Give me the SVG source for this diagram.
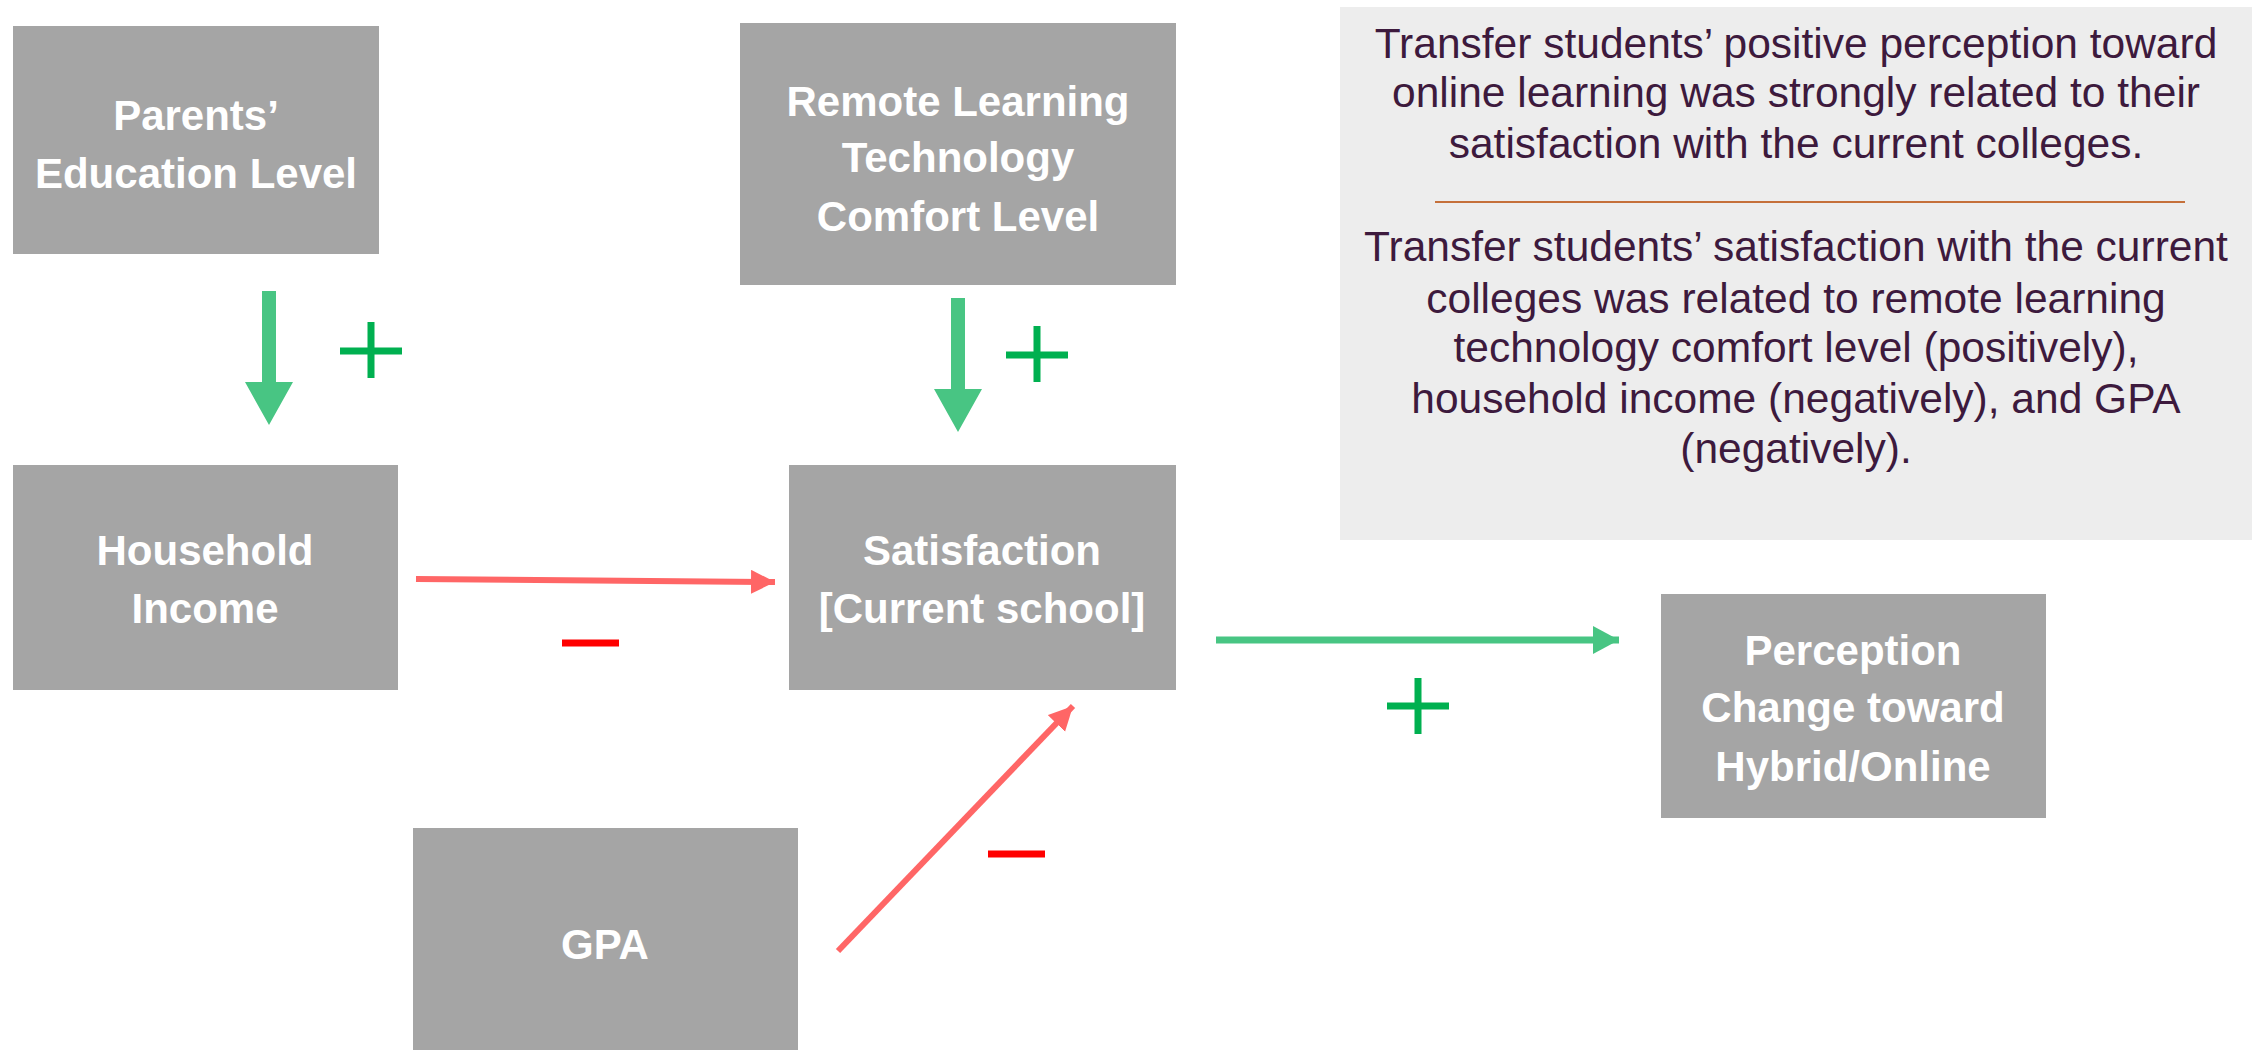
<svg xmlns="http://www.w3.org/2000/svg" width="2259" height="1050" viewBox="0 0 2259 1050">
<style>
.box{fill:#A5A5A5}
.nt{font-family:"Liberation Sans",Arial,sans-serif;font-weight:bold;font-size:42px;fill:#FFFFFF;text-anchor:middle}
.it{font-family:"Liberation Sans",Arial,sans-serif;font-size:42.5px;fill:#3D1A3D;text-anchor:middle}
.red{stroke:#FF6666;stroke-width:6;fill:none}
.grn{stroke:#48C583;stroke-width:7;fill:none}
.plus{stroke:#00B050;stroke-width:7;fill:none}
.minus{stroke:#FF0000;stroke-width:7;fill:none}
</style>
<defs>
<marker id="ar" markerUnits="userSpaceOnUse" markerWidth="26" markerHeight="26" refX="24" refY="12" orient="auto">
<path d="M0,0 L24,12 L0,24 Z" fill="#FF6666"/>
</marker>
<marker id="ag" markerUnits="userSpaceOnUse" markerWidth="28" markerHeight="30" refX="26" refY="14" orient="auto">
<path d="M0,0 L26,14 L0,28 Z" fill="#48C583"/>
</marker>
</defs>
<rect width="2259" height="1050" fill="#FFFFFF"/>

<g id="info">
<rect x="1340" y="7" width="912" height="533" fill="#EDEDED"/>
<text class="it" x="1796" y="58">Transfer students’ positive perception toward</text>
<text class="it" x="1796" y="107">online learning was strongly related to their</text>
<text class="it" x="1796" y="158">satisfaction with the current colleges.</text>
<line x1="1435" y1="202" x2="2185" y2="202" stroke="#C5703A" stroke-width="2"/>
<text class="it" x="1796" y="261">Transfer students’ satisfaction with the current</text>
<text class="it" x="1796" y="313">colleges was related to remote learning</text>
<text class="it" x="1796" y="362">technology comfort level (positively),</text>
<text class="it" x="1796" y="413">household income (negatively), and GPA</text>
<text class="it" x="1796" y="463">(negatively).</text>
</g>

<g id="parents">
<rect class="box" x="13" y="26" width="366" height="228"/>
<text class="nt" x="196" y="130">Parents’</text>
<text class="nt" x="196" y="188">Education Level</text>
</g>
<g id="remote">
<rect class="box" x="740" y="23" width="436" height="262"/>
<text class="nt" x="958" y="116">Remote Learning</text>
<text class="nt" x="958" y="172">Technology</text>
<text class="nt" x="958" y="231">Comfort Level</text>
</g>
<g id="household">
<rect class="box" x="13" y="465" width="385" height="225"/>
<text class="nt" x="205" y="565">Household</text>
<text class="nt" x="205" y="623">Income</text>
</g>
<g id="satisfaction">
<rect class="box" x="789" y="465" width="387" height="225"/>
<text class="nt" x="982" y="565">Satisfaction</text>
<text class="nt" x="982" y="623">[Current school]</text>
</g>
<g id="gpa">
<rect class="box" x="413" y="828" width="385" height="222"/>
<text class="nt" x="605" y="959">GPA</text>
</g>
<g id="perception">
<rect class="box" x="1661" y="594" width="385" height="224"/>
<text class="nt" x="1853" y="665">Perception</text>
<text class="nt" x="1853" y="722">Change toward</text>
<text class="nt" x="1853" y="781">Hybrid/Online</text>
</g>

<g id="connectors">
<polygon points="262,291 276,291 276,382 293,382 269,425 245,382 262,382" fill="#48C583"/>
<polygon points="951,298 965,298 965,389 982,389 958,432 934,389 951,389" fill="#48C583"/>
<line class="red" x1="416" y1="579" x2="775" y2="582" marker-end="url(#ar)"/>
<line class="red" x1="838" y1="951" x2="1073" y2="706" marker-end="url(#ar)"/>
<line class="grn" x1="1216" y1="640" x2="1619" y2="640" marker-end="url(#ag)"/>
</g>

<g id="signs">
<path class="plus" d="M340,351 H402 M371,322 V378"/>
<path class="plus" d="M1006,355 H1068 M1037,326 V382"/>
<path class="plus" d="M1387,706 H1449 M1418,678 V734"/>
<path class="minus" d="M562,643 H619"/>
<path class="minus" d="M988,854 H1045"/>
</g>
</svg>
